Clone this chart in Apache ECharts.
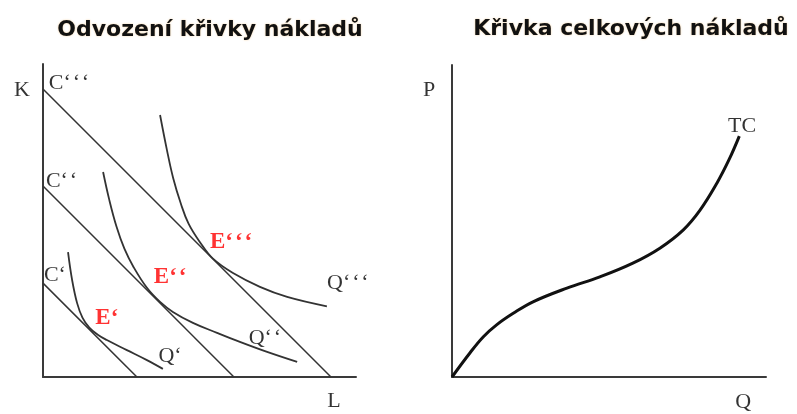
<!DOCTYPE html>
<html>
<head>
<meta charset="utf-8">
<script src="https://cdn.jsdelivr.net/npm/echarts@6/dist/echarts.min.js"></script>
<style>
  html, body { margin: 0; padding: 0; background: #fff; }
  #main { width: 797px; height: 414px; }
</style>
</head>
<body>
<div id="main"></div>
<script>
// axis units: 0..100 in both panels

// isocost lines C', C'', C''' (intercept on both axes)
var isocostIntercepts = [30, 61, 92];

// isoquants Q', Q'', Q'''
var qLow = [[8, 39.9], [9.3, 31], [10.9, 23.6], [12.6, 19], [14.8, 15.8], [17.5, 13.5], [20.4, 11.8],
            [26.8, 8.6], [33.2, 5.4], [38.3, 2.6]];
var qMid = [[19.2, 65.5], [21.2, 56.5], [23.5, 48], [26, 41], [29, 35], [33.2, 28.5], [37.4, 24],
            [41.5, 20.8], [47.9, 17.3], [55.6, 14.1], [62.9, 11.2], [71.6, 8], [81.2, 4.8]];
var qHigh = [[37.4, 83.7], [39.6, 72.5], [41.6, 63.5], [44, 55.5], [46.5, 49], [50.2, 43], [54.3, 37.8],
             [60.7, 33.2], [69.3, 28.8], [78, 25.6], [90.7, 22.6]];

// total cost curve
var tcCurve = [[0, 0], [5.7, 7.7], [10, 12.9], [14.2, 16.7], [19.5, 20.4], [25.8, 24.1], [36.6, 28.5],
               [47.1, 32.1], [57.6, 36.5], [66.2, 41.3], [73.6, 47.1], [79, 53.5], [84.4, 62.2],
               [88.3, 69.8], [91.5, 77.2]];

// text labels: [text, x, y]
var q1 = '\u2018', q2 = '\u2018\u200a\u2018', q3 = '\u2018\u200a\u2018\u200a\u2018';
var costLabels = [['C' + q1, 3.8, 32.6], ['C' + q2, 5.9, 62.6], ['C' + q3, 8.3, 93.9]];
var pointLabels = [['E' + q1, 20.4, 18.8], ['E' + q2, 40.6, 31.9], ['E' + q3, 60.1, 43.1]];
var quantityLabels = [['Q' + q1, 40.6, 6.7], ['Q' + q2, 70.9, 12.5], ['Q' + q3, 97.4, 30]];
var leftAxisNames = [['K', -6.7, 91.7], ['L', 93, -7.7]];
var rightAxisNames = [['P', -7.3, 92], ['Q', 92.7, -8], ['TC', 92.4, 80.4]];

var titles = ['Odvozen\u00ed k\u0159ivky n\u00e1klad\u016f', 'K\u0159ivka celkov\u00fdch n\u00e1klad\u016f'];

var chart = echarts.init(document.getElementById('main'));

function axis(idx) {
    return {
        type: 'value', gridIndex: idx, min: 0, max: 100,
        axisLine: { show: true, lineStyle: { color: '#3a3a3a', width: 2 } },
        axisTick: { show: false }, axisLabel: { show: false }, splitLine: { show: false }
    };
}

function curve(data, idx, width, smooth) {
    return {
        type: 'line', xAxisIndex: idx, yAxisIndex: idx, data: data,
        showSymbol: false, smooth: smooth, silent: true,
        lineStyle: { color: idx ? '#111' : '#333', width: width }
    };
}

function labels(list, idx, style) {
    return {
        type: 'scatter', xAxisIndex: idx, yAxisIndex: idx, clip: false, silent: true,
        symbolSize: 0, itemStyle: { color: '#fff' },
        data: list.map(function (l) { return { name: l[0], value: [l[1], l[2]] }; }),
        label: Object.assign({ show: true, position: 'inside', formatter: '{b}',
            fontFamily: 'Liberation Serif', fontSize: 22, color: '#000',
            textBorderWidth: 0 }, style)
    };
}

var series = [];
isocostIntercepts.forEach(function (c) {
    series.push(curve([[0, c], [c, 0]], 0, 1.5, false));
});
series.push(curve(qLow, 0, 1.8, 0.4));
series.push(curve(qMid, 0, 1.8, 0.4));
series.push(curve(qHigh, 0, 1.8, 0.4));
series.push(curve(tcCurve, 1, 3, 0.4));
series.push(labels(costLabels, 0, {}));
series.push(labels(quantityLabels, 0, {}));
series.push(labels(leftAxisNames, 0, {}));
series.push(labels(pointLabels, 0, { color: '#ff0000', fontWeight: 'bold', fontSize: 23 }));
series.push(labels(rightAxisNames, 1, {}));

var titleStyle = {
    fontFamily: 'DejaVu Sans', fontWeight: 'bold', fontSize: 22, color: '#111',
    textShadowColor: 'rgba(230,150,40,0.45)', textShadowBlur: 2
};

chart.setOption({
    animation: false,
    backgroundColor: '#fff',
    title: [
        { text: titles[0], left: 205, top: 14, textAlign: 'center', textStyle: titleStyle },
        { text: titles[1], left: 626, top: 13, textAlign: 'center', textStyle: titleStyle }
    ],
    grid: [
        { left: 43, top: 64, width: 313, height: 313 },
        { left: 452, top: 65, width: 314, height: 312 }
    ],
    xAxis: [axis(0), axis(1)],
    yAxis: [axis(0), axis(1)],
    series: series
});
</script>
</body>
</html>
